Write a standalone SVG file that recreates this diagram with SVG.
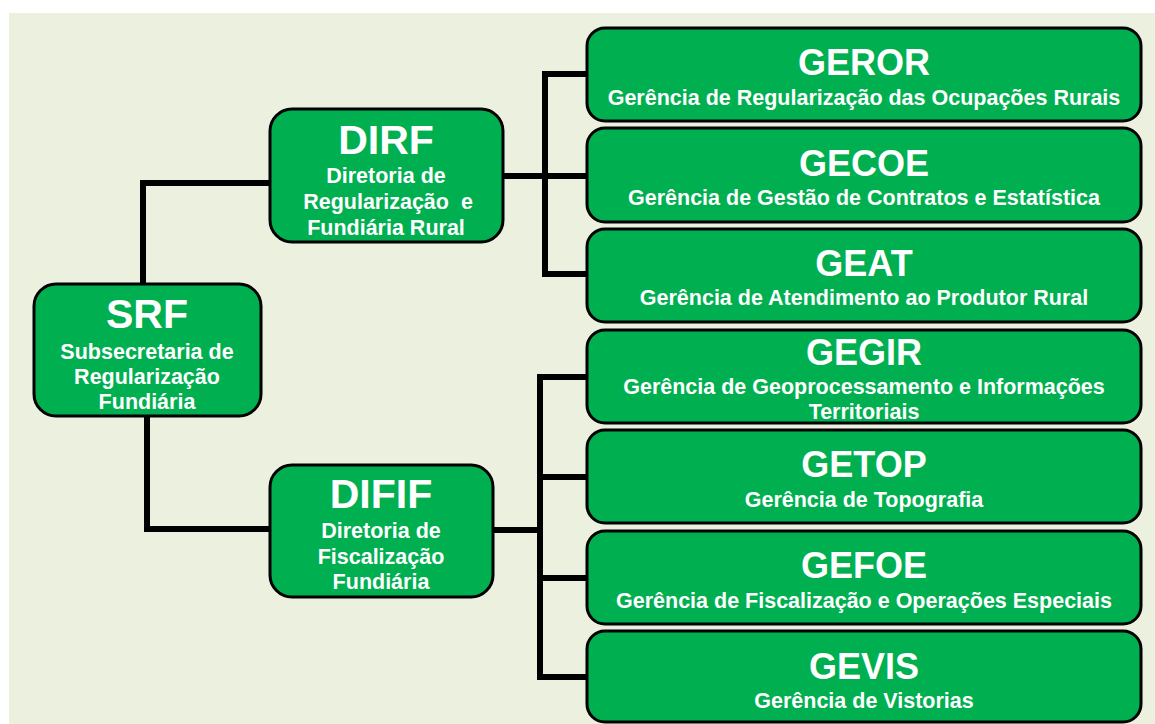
<svg xmlns="http://www.w3.org/2000/svg" width="1155" height="724" viewBox="0 0 1155 724">
<style>
.box{fill:#00b050;stroke:#000;stroke-width:3}
.t{font-family:"Liberation Sans",Arial,sans-serif;font-weight:bold;fill:#fff;text-anchor:middle}
.big{font-size:36px}
.lbig{font-size:41px}
.sm{font-size:21.5px}
.c{fill:none;stroke:#000;stroke-width:6;stroke-linejoin:miter}
</style>
<rect x="0" y="0" width="1155" height="724" fill="#ffffff"/>
<rect x="9" y="13" width="1146" height="711" fill="#ebf1de"/>
<g id="connectors">
<polyline class="c" points="143,286 143,183 272,183"/>
<polyline class="c" points="147,414 147,529 272,529"/>
<line class="c" x1="502" y1="176" x2="545" y2="176"/>
<polyline class="c" points="589,74 545,74 545,274 589,274"/>
<line class="c" x1="545" y1="176" x2="589" y2="176"/>
<line class="c" x1="492" y1="530" x2="540" y2="530"/>
<polyline class="c" points="589,377 540,377 540,677 589,677"/>
<line class="c" x1="540" y1="477" x2="589" y2="477"/>
<line class="c" x1="540" y1="578" x2="589" y2="578"/>
</g>
<g id="SRF">
<rect class="box" x="34" y="284" width="227" height="132" rx="22"/>
<text class="t lbig" x="147" y="328">SRF</text>
<text class="t sm" x="147" y="359">Subsecretaria de</text>
<text class="t sm" x="147" y="384">Regularização</text>
<text class="t sm" x="147" y="409">Fundiária</text>
</g>
<g id="DIRF">
<rect class="box" x="270" y="109" width="233" height="133" rx="22"/>
<text class="t lbig" x="386" y="154">DIRF</text>
<text class="t sm" x="386" y="183">Diretoria de</text>
<text class="t sm" x="388" y="209" style="white-space:pre">Regularização  e</text>
<text class="t sm" x="386" y="235">Fundiária Rural</text>
</g>
<g id="DIFIF">
<rect class="box" x="270" y="465" width="223" height="132" rx="22"/>
<text class="t lbig" x="381" y="508">DIFIF</text>
<text class="t sm" x="381" y="538">Diretoria de</text>
<text class="t sm" x="381" y="564">Fiscalização</text>
<text class="t sm" x="381" y="589">Fundiária</text>
</g>
<g id="GEROR">
<rect class="box" x="587" y="28" width="554" height="93" rx="18"/>
<text class="t big" x="864" y="75">GEROR</text>
<text class="t sm" x="864" y="105">Gerência de Regularização das Ocupações Rurais</text>
</g>
<g id="GECOE">
<rect class="box" x="587" y="128" width="554" height="94" rx="18"/>
<text class="t big" x="864" y="176">GECOE</text>
<text class="t sm" x="864" y="205">Gerência de Gestão de Contratos e Estatística</text>
</g>
<g id="GEAT">
<rect class="box" x="587" y="229" width="554" height="93" rx="18"/>
<text class="t big" x="864" y="276">GEAT</text>
<text class="t sm" x="864" y="305">Gerência de Atendimento ao Produtor Rural</text>
</g>
<g id="GEGIR">
<rect class="box" x="587" y="330" width="554" height="93" rx="18"/>
<text class="t big" x="864" y="365">GEGIR</text>
<text class="t sm" x="864" y="394">Gerência de Geoprocessamento e Informações</text>
<text class="t sm" x="864" y="419">Territoriais</text>
</g>
<g id="GETOP">
<rect class="box" x="587" y="430" width="554" height="93" rx="18"/>
<text class="t big" x="864" y="477">GETOP</text>
<text class="t sm" x="864" y="507">Gerência de Topografia</text>
</g>
<g id="GEFOE">
<rect class="box" x="587" y="531" width="554" height="93" rx="18"/>
<text class="t big" x="864" y="578">GEFOE</text>
<text class="t sm" x="864" y="608">Gerência de Fiscalização e Operações Especiais</text>
</g>
<g id="GEVIS">
<rect class="box" x="587" y="631" width="554" height="91" rx="18"/>
<text class="t big" x="864" y="679">GEVIS</text>
<text class="t sm" x="864" y="708">Gerência de Vistorias</text>
</g>
</svg>
